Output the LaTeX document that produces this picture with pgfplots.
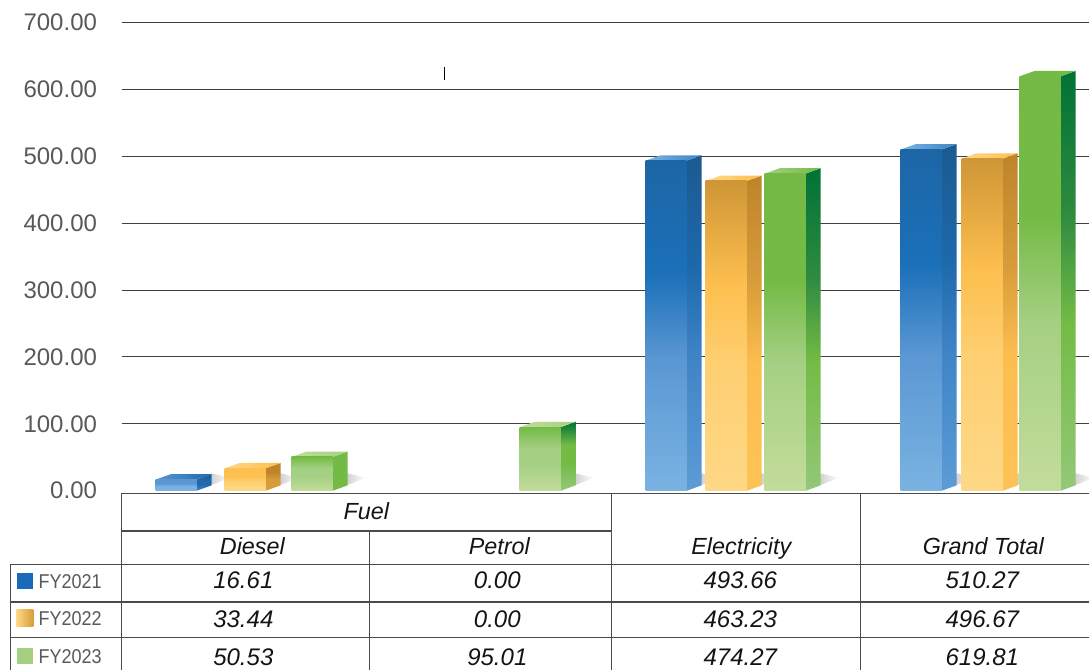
\documentclass[border=0pt]{standalone}
\usepackage{fontspec}
\setmainfont{Liberation Sans}
\usepackage{pgfplots}
\pgfplotsset{compat=1.18}
\definecolor{tick}{HTML}{58595B}
\definecolor{rule}{HTML}{4A4A4A}
% vertical shadings: 25bp = bottom of the path, 75bp = top
\newcommand{\vshade}[5]{\pgfdeclareverticalshading{#1}{100bp}{color(0bp)=(#2);color(25bp)=(#2);color(45bp)=(#3);color(58bp)=(#4);color(75bp)=(#5);color(100bp)=(#5)}}
\definecolor{ba}{HTML}{7AB3E2}\definecolor{bb}{HTML}{5A97D3}\definecolor{bc}{HTML}{1B70B9}\definecolor{bd}{HTML}{1C66A6}
\definecolor{bsa}{HTML}{5C9CD6}\definecolor{bsb}{HTML}{3F84C6}\definecolor{bsc}{HTML}{1D69AC}\definecolor{bsd}{HTML}{1C5A90}
\definecolor{oa}{HTML}{FED886}\definecolor{ob}{HTML}{FECF72}\definecolor{oc}{HTML}{FDBF4F}\definecolor{od}{HTML}{CF9636}
\definecolor{osa}{HTML}{FDC255}\definecolor{osb}{HTML}{FDBE50}\definecolor{osc}{HTML}{D89D3A}\definecolor{osd}{HTML}{BD842A}
\definecolor{ga}{HTML}{C3DC9A}\definecolor{gb}{HTML}{A5D083}\definecolor{gc}{HTML}{74BB46}\definecolor{gd}{HTML}{74B945}
\definecolor{gsa}{HTML}{93C878}\definecolor{gsb}{HTML}{74BB46}\definecolor{gsc}{HTML}{2F8B3F}\definecolor{gsd}{HTML}{007236}
\vshade{blueF}{ba}{bb}{bc}{bd}
\vshade{blueS}{bsa}{bsb}{bsc}{bsd}
\vshade{orangeF}{oa}{ob}{oc}{od}
\vshade{orangeS}{osa}{osb}{osc}{osd}
\vshade{greenF}{ga}{gb}{gc}{gd}
\vshade{greenS}{gsa}{gsb}{gsc}{gsd}
\vshade{blueFs}{ba}{ba}{bb}{bb}
\vshade{blueSs}{bsb}{bsc}{bsc}{bsd}
\vshade{orangeFs}{oa}{ob}{oc}{oc}
\vshade{orangeSs}{osc}{osc}{osd}{osd}
\vshade{greenFs}{ga}{gb}{gb}{gc}
\vshade{greenSs}{gsb}{gsb}{gsb}{gsb}
\vshade{greenSm}{gsa}{gsb}{gsb}{gsd}
% #1 left edge of the front face (px), #2 value, #3 front shading, #4 side shading, #5 top face colours
\newcommand{\threedbar}[5]{%
  \pgfmathsetmacro\xc{#1+20.5}%
  \pgfmathsetmacro\xa{#1+41}%
  \pgfmathsetmacro\xb{#1+56}%
  \pgfmathsetmacro\xd{#1+15}%
  \pgfmathsetmacro\xs{#1+74}%
  \pgfmathsetmacro\yt{#2+8}%
  \addplot[draw=none,left color=black!32,right color=white] coordinates {(\xa,0)(\xs,19)(\xb,26)} --cycle;
  \addplot[draw=none,shade,shading=#4] coordinates {(\xa,0)(\xb,8)(\xb,\yt)(\xa,#2)} --cycle;
  \addplot[draw=none,#5] coordinates {(#1,#2)(\xd,\yt)(\xb,\yt)(\xa,#2)} --cycle;
  \addplot[ybar,bar width=41,bar shift=0pt,draw=none,shade,shading=#3] coordinates {(\xc,#2)};
}
\begin{document}
\begin{tikzpicture}
\useasboundingbox (0,0) rectangle (816.75pt,502.5pt);
\begin{axis}[
  at={(91.25pt,134.5pt)},anchor=south west,
  scale only axis,width=726pt,height=351pt,
  xmin=121,xmax=1089,ymin=0,ymax=700,
  axis line style={draw=none},
  xtick=\empty,
  ytick={100,200,300,400,500,600,700},
  extra y ticks={0},
  extra y tick style={grid=none},
  major tick length=0pt,
  ymajorgrids,
  grid style={draw=black!75,line width=0.75pt},
  yticklabel style={/pgf/number format/.cd,fixed,fixed zerofill,precision=2,assume math mode=true,/tikz/.cd,font=\fontsize{18}{18}\selectfont,text=tick,anchor=east,xshift=-15pt},
]
% zero-valued bars of the Petrol group
\addplot[ybar,bar width=41,bar shift=0pt,draw=none,fill=none] coordinates {(403,0.00)};
\addplot[ybar,bar width=41,bar shift=0pt,draw=none,fill=none] coordinates {(472,0.00)};
% Diesel
\threedbar{155}{16.61}{blueFs}{blueSs}{left color=bb,right color=bsc}
\threedbar{224}{33.44}{orangeFs}{orangeSs}{left color=oa,right color=oc}
\threedbar{291}{50.53}{greenFs}{greenSs}{left color=ga,right color=gb}
% Petrol
\threedbar{519}{95.01}{greenFs}{greenSm}{left color=ga,right color=gb}
% Electricity
\threedbar{645}{493.66}{blueF}{blueS}{left color=ba,right color=bsb}
\threedbar{705}{463.23}{orangeF}{orangeS}{left color=oa,right color=oc}
\threedbar{764}{474.27}{greenF}{greenS}{left color=gb,right color=gc}
% Grand Total
\threedbar{900}{510.27}{blueF}{blueS}{left color=ba,right color=bsb}
\threedbar{961}{496.67}{orangeF}{orangeS}{left color=oa,right color=oc}
\threedbar{1019}{619.81}{greenF}{greenS}{left color=gc,right color=gc}
\end{axis}
\begin{scope}[x=0.75pt,y=-0.75pt,yshift=501.75pt,xshift=0.25pt]
  \draw[black,line width=0.9pt] (444.5,66) -- (444.5,79);
  \begin{scope}[draw=rule,line width=0.8pt]
    \draw (121,492.5) -- (1089,492.5);
    \draw (121,530) -- (611,530);
    \draw (10,563.3) -- (1089,563.3);
    \draw (10,601) -- (1089,601);
    \draw (10,636.7) -- (1089,636.7);
    \draw (10,563.3) -- (10,671);
    \draw (121,492.5) -- (121,671);
    \draw (369,530) -- (369,671);
    \draw (611,492.5) -- (611,671);
    \draw (860,492.5) -- (860,671);
  \end{scope}
  \shade[left color=oa,right color=osc] (16,609) rectangle (33,626);
  \fill[bc!95!blue] (17,572) rectangle (33,588);
  \fill[gb] (17,647) rectangle (33,663);
  \begin{scope}[every node/.style={inner sep=0pt,anchor=base,font=\fontsize{17.5}{18}\selectfont\itshape,text=black!92}]
    \node at (366,519) {Fuel};
    \node at (252,554) {Diesel};
    \node at (499,554) {Petrol};
    \node at (741,554) {Electricity};
    \node at (983,554) {Grand Total};
    \begin{scope}[every node/.append style={font=\fontsize{18}{18}\selectfont\itshape}]
    \node at (243,588) {16.61};
    \node at (497,588) {0.00};
    \node at (740,588) {493.66};
    \node at (982,588) {510.27};
    \node at (243,627) {33.44};
    \node at (497,627) {0.00};
    \node at (740,627) {463.23};
    \node at (982,627) {496.67};
    \node at (243,665) {50.53};
    \node at (497,665) {95.01};
    \node at (740,665) {474.27};
    \node at (982,665) {619.81};
    \end{scope}
  \end{scope}
  \begin{scope}[every node/.style={inner sep=0pt,anchor=base west,text=tick,font=\fontsize{15}{16}\selectfont}]
    \node at (38,588) {\scalebox{0.9}[1]{FY2021}};
    \node at (38,625) {\scalebox{0.9}[1]{FY2022}};
    \node at (38,663) {\scalebox{0.9}[1]{FY2023}};
  \end{scope}
\end{scope}
\end{tikzpicture}
\end{document}
